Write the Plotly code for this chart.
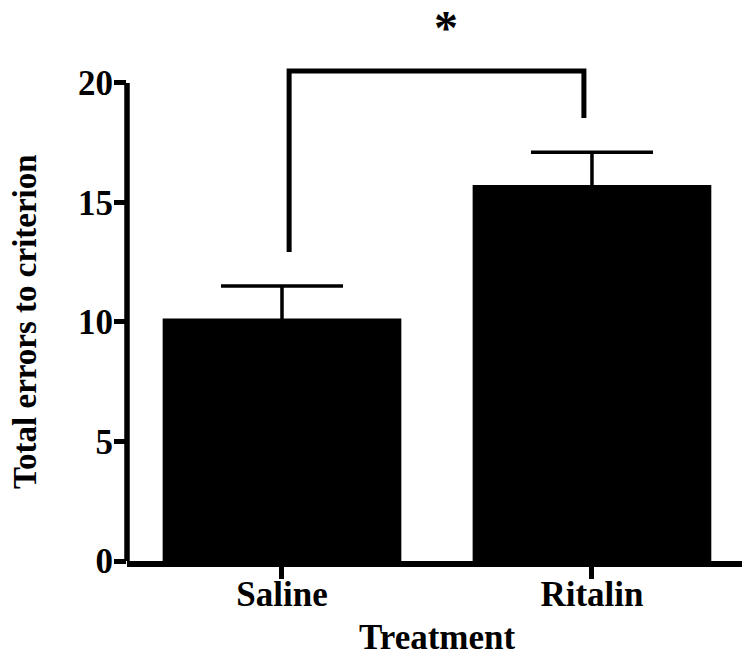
import plotly.graph_objects as go

categories = ["Saline", "Ritalin"]
means = [10.15, 15.73]
errors_up = [1.35, 1.37]
y_ticks = [0, 5, 10, 15, 20]

# significance bracket (x in category units, y in data units)
bracket_x = [0.023, 0.023, 0.974, 0.974]
bracket_y = [12.93, 20.5, 20.5, 18.53]
star_x = 0.53
star_y = 22.3
star_text = "*"

FONT = "Liberation Serif, Times New Roman, serif"
Y_MAX = 23.47
AX_W = 5.5
FS = 35

fig = go.Figure()
fig.add_trace(go.Bar(
    x=[0, 1], y=means, width=0.77,
    marker=dict(color="black", line=dict(width=0)),
    # lower half of each error bar runs down inside the black bar, hidden
    error_y=dict(type="data", symmetric=False, array=errors_up,
                 arrayminus=means, color="black", thickness=3.5, width=61),
    showlegend=False, hoverinfo="skip",
))
fig.add_trace(go.Scatter(
    x=bracket_x, y=bracket_y, mode="lines",
    line=dict(color="black", width=5), showlegend=False, hoverinfo="skip",
))

fig.add_shape(type="line", xref="paper", yref="y", x0=0, x1=0, y0=0, y1=y_ticks[-1],
              line=dict(color="black", width=AX_W))

fig.add_annotation(x=star_x, y=star_y, xref="x", yref="y", text=star_text, showarrow=False,
                   font=dict(family=FONT, size=48, color="black", weight="bold"))
fig.add_annotation(x=-0.166, y=(y_ticks[0] + y_ticks[-1]) / 2, xref="paper", yref="y",
                   xanchor="center", yanchor="middle",
                   text="Total errors to criterion", textangle=-90, showarrow=False,
                   font=dict(family=FONT, size=33, color="black", weight="bold"))
fig.add_annotation(x=0.5, y=-0.136, xref="x", yref="paper",
                   xanchor="center", yanchor="middle",
                   text="Treatment", showarrow=False,
                   font=dict(family=FONT, size=FS, color="black", weight="bold"))

fig.update_layout(
    width=742, height=653,
    margin=dict(l=127, r=0, t=0, b=92, autoexpand=False),
    paper_bgcolor="white", plot_bgcolor="white",
    showlegend=False,
    xaxis=dict(
        range=[-0.5, 1.484], tickmode="array", tickvals=[0, 1], ticktext=categories,
        showline=True, linecolor="black", linewidth=AX_W, automargin=False,
        ticks="outside", ticklen=12, tickwidth=5, tickcolor="black",
        ticklabelstandoff=-15,
        showgrid=False, zeroline=False,
        tickfont=dict(family=FONT, size=FS, color="black", weight="bold"),
    ),
    yaxis=dict(
        range=[0, Y_MAX], tickmode="array", tickvals=y_ticks, automargin=False,
        showline=False, ticks="outside", ticklen=12, tickwidth=5, tickcolor="black",
        ticklabelstandoff=-6,
        showgrid=False, zeroline=False,
        tickfont=dict(family=FONT, size=FS, color="black", weight="bold"),
    ),
)

fig.write_html("out.html", config={"displayModeBar": False},
               post_script="document.body.style.margin='0';")
